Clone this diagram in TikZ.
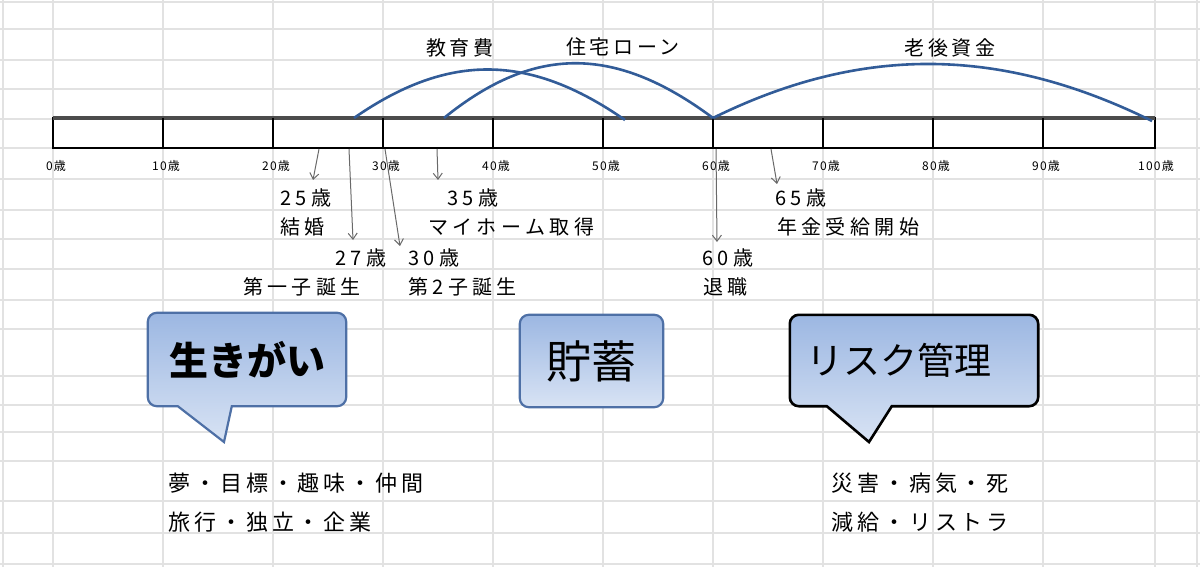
\documentclass[tikz,border=0pt]{standalone}
\usepackage{fontspec}
\setmainfont{Noto Sans CJK JP}
\usetikzlibrary{arrows.meta,backgrounds}

\definecolor{gridgray}{RGB}{226,226,226}
\definecolor{arcblue}{RGB}{50,92,152}
\definecolor{boxblue}{RGB}{78,112,166}
\definecolor{filltop}{RGB}{156,183,226}
\definecolor{fillbot}{RGB}{216,227,244}
\definecolor{arrowgray}{RGB}{105,105,105}

\begin{document}
\begin{tikzpicture}[x=1pt,y=-1pt,
    gridline/.style={draw=gridgray,line width=1.6pt},
    arcline/.style={draw=arcblue,line width=2.6pt},
    evarrow/.style={draw=arrowgray,line width=1pt,-{Straight Barb[length=6pt,width=9pt]}},
    agelab/.style={inner sep=0pt,font=\fontsize{12}{12}\selectfont\addfontfeature{LetterSpace=10}},
    evlab/.style={inner sep=0pt,anchor=west,font=\fontsize{20}{20}\selectfont\addfontfeature{LetterSpace=22}},
    toplab/.style={inner sep=0pt,font=\fontsize{20}{20}\selectfont\addfontfeature{LetterSpace=18}},
    bottext/.style={inner sep=0pt,anchor=west,font=\fontsize{22}{22}\selectfont\addfontfeature{LetterSpace=18}},
    bubble/.style={line width=2.2pt,draw=boxblue,top color=filltop,bottom color=fillbot},
    bubbox/.style={inner sep=0pt}]
    \useasboundingbox (0,0) rectangle (1200,567);

    % bubbles (text first, shapes go behind)
    \node[bubbox,minimum width=198pt,minimum height=93pt,font=\bfseries\fontsize{39}{39}\selectfont] (ikigai) at (247,359.5) {生きがい};
    \node[bubbox,minimum width=143pt,minimum height=92pt,font=\fontsize{45}{45}\selectfont] (chochiku) at (591.5,361) {貯蓄};
    \node[bubbox,minimum width=248pt,minimum height=91pt,text width=216pt,align=left,inner xsep=16pt,font=\fontsize{37}{37}\selectfont] (risk) at (914,360.5) {リスク管理};
    \coordinate (ikigai-tip) at (224,442);
    \coordinate (risk-tip) at (869,442);

    \begin{scope}[on background layer]
    \fill[white] (0,0) rectangle (1200,567);
    \foreach \gx in {3,53,163,273,383,493,603,713,823,933,1043,1155,1197}
        \draw[gridline] (\gx,0) -- (\gx,567);
    \foreach \gy in {2,29,60,89,119,148,179,210,239,269,300,329,376,405,432,461,501,533,564}
        \draw[gridline] (0,\gy) -- (1200,\gy);

    \draw[bubble] (ikigai.south) [rounded corners=9pt] -- (ikigai.south east) -- (ikigai.north east)
        -- (ikigai.north west) -- (ikigai.south west) -- ([xshift=20pt]ikigai.south west)
        [sharp corners] -- ([xshift=30pt]ikigai.south west) -- (ikigai-tip)
        -- ([xshift=84pt]ikigai.south west) -- cycle;
    \draw[bubble,rounded corners=9pt] (chochiku.south west) rectangle (chochiku.north east);
    \draw[bubble,draw=black,line width=2.6pt] (risk.south) [rounded corners=9pt] -- (risk.south east) -- (risk.north east)
        -- (risk.north west) -- (risk.south west) -- ([xshift=25pt]risk.south west)
        [sharp corners] -- ([xshift=37pt]risk.south west) -- (risk-tip)
        -- ([xshift=102pt]risk.south west) -- cycle;
    \end{scope}

    % timeline bar
    \draw[line width=2.5pt,fill=white] (53,118) rectangle (1155,148);
    \draw[line width=4pt,draw=black!70] (53,118) -- (1155,118);
    \foreach \t in {1,...,9}
        \draw[line width=2.5pt] ({53+110*\t},118) -- ({53+110*\t},148);
    \foreach \t in {0,...,10} {
        \pgfmathtruncatemacro\yr{10*\t}
        \node[agelab] (age\t) at ({56+110*\t},166) {\yr 歳};
    }

    % arcs
    \coordinate (edu-s) at (354,118);
    \coordinate (edu-e) at (625,120);
    \coordinate (home-s) at (444,118);
    \coordinate (home-e) at (713,118);
    \coordinate (old-e) at (1152,121);
    \draw[arcline] (edu-s) .. controls +(95,-66) and +(-95,-66) .. (edu-e);
    \draw[arcline] (home-s) .. controls +(90,-73) and +(-98,-73) .. (home-e);
    \draw[arcline] (home-e) .. controls +(150,-74) and +(-150,-74) .. (old-e);
    \node[toplab] (edu) at (460,48) {教育費};
    \node[toplab] (home) at (623,47) {住宅ローン};
    \node[toplab] (old) at (950,48) {老後資金};

    % events
    \coordinate (b25) at (319,149);  \coordinate (t25) at (313,180);
    \coordinate (b27) at (349,149);  \coordinate (t27) at (353,240);
    \coordinate (b30) at (385,149);  \coordinate (t30) at (400,246);
    \coordinate (b35) at (437,149);  \coordinate (t35) at (438,180);
    \coordinate (b60) at (716,149);  \coordinate (t60) at (717,242);
    \coordinate (b65) at (771,149);  \coordinate (t65) at (777,184);
    \foreach \e in {25,27,30,35,60,65}
        \draw[evarrow] (b\e) -- (t\e);

    \node[evlab] (y25) at (280,198) {25歳};
    \node[evlab] (marry) at (280,227) {結婚};
    \node[evlab] (y27) at (335,258) {27歳};
    \node[evlab] (child1) at (243,287) {第一子誕生};
    \node[evlab] (y30) at (408,258) {30歳};
    \node[evlab] (child2) at (408,287) {第2子誕生};
    \node[evlab] (y35) at (447,198) {35歳};
    \node[evlab] (house) at (428,227) {マイホーム取得};
    \node[evlab] (y60) at (702,258) {60歳};
    \node[evlab] (retire) at (703,287) {退職};
    \node[evlab] (y65) at (775,198) {65歳};
    \node[evlab] (pension) at (777,227) {年金受給開始};

    % lists under the bubbles
    \node[bottext] (dream) at (168,483) {夢・目標・趣味・仲間};
    \node[bottext] (travel) at (168,522) {旅行・独立・企業};
    \node[bottext] (disaster) at (831,483) {災害・病気・死};
    \node[bottext] (paycut) at (831,522) {減給・リストラ};
\end{tikzpicture}
\end{document}
